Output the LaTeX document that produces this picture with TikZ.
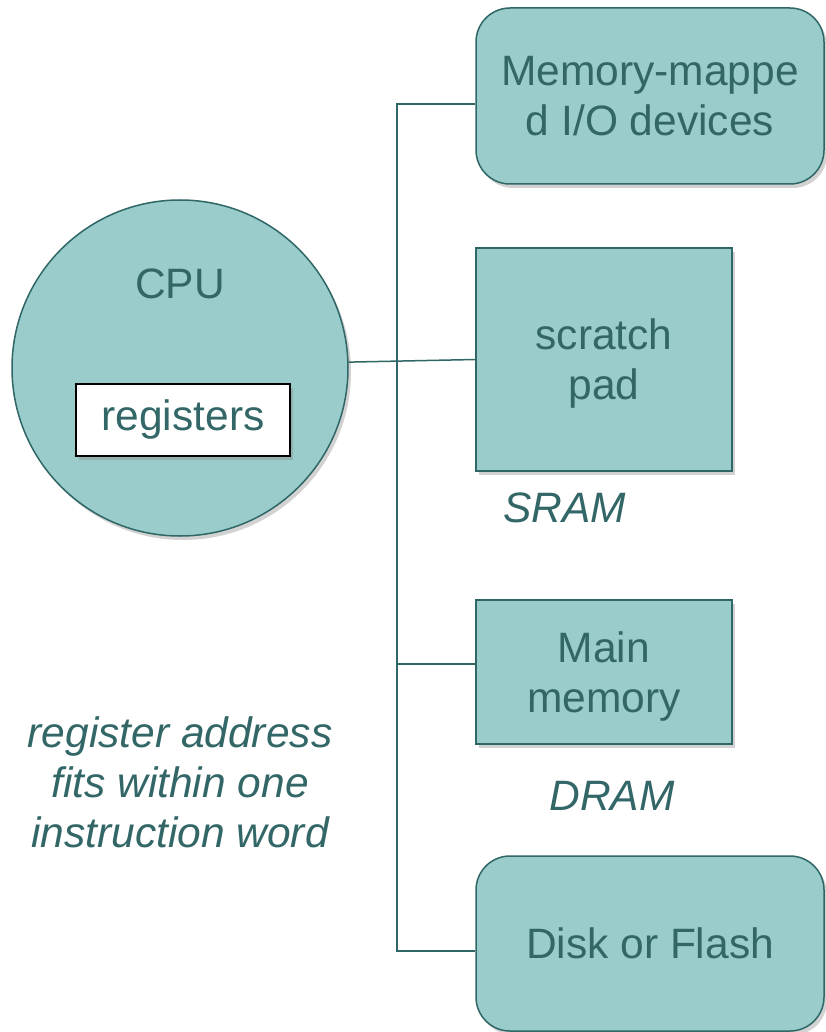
\documentclass[tikz,border=0pt]{standalone}
\usepackage{fontspec}
\setmainfont{Liberation Sans}
\usetikzlibrary{shadows}
\definecolor{tealfill}{HTML}{9BCCCC}
\definecolor{tealline}{HTML}{2F6666}
\definecolor{tealtext}{HTML}{336666}
\begin{document}
\begin{tikzpicture}[x=1pt,y=-1pt,
  every node/.style={text=tealtext,font=\fontsize{42.5}{50}\selectfont},
  block/.style={draw=tealline,line width=1.5pt,fill=tealfill,align=center,inner sep=0pt,
    drop shadow={shadow xshift=3pt,shadow yshift=-4pt,opacity=0.35}},
  rblock/.style={block,rounded corners=34pt},
  conn/.style={draw=tealline,line width=1.5pt},
  lbl/.style={font=\fontsize{42.5}{50}\selectfont\itshape,align=center}]
\useasboundingbox (0,0) rectangle (825,1032);
\fill[white] (0,0) rectangle (825,1032);
% CPU
\node[circle,draw=tealline,line width=1.5pt,fill=tealfill,minimum size=336pt,inner sep=0pt,
  drop shadow={shadow xshift=3pt,shadow yshift=-4pt,opacity=0.35}] (cpu) at (180,368) {};
\node (cputxt) at (180,284) {CPU};
\node[draw=black,line width=1.5pt,fill=white,minimum width=214pt,minimum height=72pt,inner sep=0pt,
  drop shadow={shadow xshift=3pt,shadow yshift=-4pt,opacity=0.35}] (reg) at (183,420) {\raisebox{-2pt}{registers}};
% memories
\node[rblock,minimum width=348pt,minimum height=176pt,text depth=-3pt] (io) at (650,96) {Memory-mappe\\d I/O devices};
\node[block,minimum width=256pt,minimum height=223pt,text depth=-3pt] (sp) at (604,359.5) {scratch\\pad};
\node[lbl] (sram) at (565,508) {SRAM};
\node[block,minimum width=256pt,minimum height=144pt,text depth=-3pt] (mm) at (604,672) {Main\\memory};
\node[lbl] (dram) at (612,796) {DRAM};
\node[rblock,minimum width=348pt,minimum height=175pt] (disk) at (650,943.5) {Disk or Flash};
\node[lbl] (note) at (180,782) {register address\\fits within one\\instruction word};
% bus
\coordinate (bt) at (397,104);
\coordinate (bm) at (397,664);
\coordinate (bb) at (397,951);
\draw[conn] (bt -| io.west) -- (bt) -- (bb) -- (bb -| disk.west);
\draw[conn] (bm) -- (bm -| mm.west);
\draw[conn] (cpu.2) -- (sp.west);
\end{tikzpicture}
\end{document}
